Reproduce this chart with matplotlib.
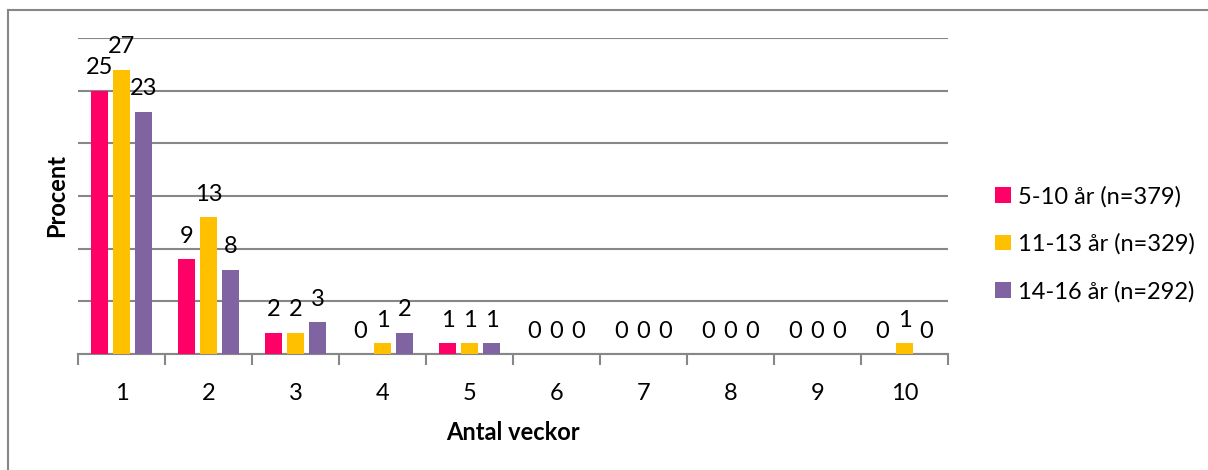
import matplotlib
matplotlib.use("Agg")
import matplotlib.pyplot as plt
from matplotlib.patches import Patch
from matplotlib.lines import Line2D
import numpy as np

plt.rcParams['font.family'] = ['Lato', 'DejaVu Sans']

categories = ['1', '2', '3', '4', '5', '6', '7', '8', '9', '10']
series_names = ['5-10 år (n=379)', '11-13 år (n=329)', '14-16 år (n=292)']
s1 = [25, 9, 2, 0, 1, 0, 0, 0, 0, 0]
s2 = [27, 13, 2, 1, 1, 0, 0, 0, 0, 1]
s3 = [23, 8, 3, 2, 1, 0, 0, 0, 0, 0]
colors = ['#FF0066', '#FFC000', '#8064A2']

fig = plt.figure(figsize=(12.08, 4.70), dpi=100)
ax = fig.add_axes([78/1208, 1-354/470, 870/1208, 316/470])

x = np.arange(1, len(categories) + 1)
step = 0.253
width = 0.2
grid_c = '#878787'
fs = 17
for i, (vals, c) in enumerate(zip([s1, s2, s3], colors)):
    pos = x + (i - 1) * step
    ax.bar(pos, vals, width=width, color=c, zorder=3)
    for p, v in zip(pos, vals):
        ax.annotate(f"{v}", (p, v), xytext=(0, 9), textcoords='offset points',
                    ha='center', va='bottom', fontsize=fs, color='black', zorder=4,
                    annotation_clip=False)

ax.set_xlim(0.5, 10.5)
ax.set_ylim(0, 30)
ax.set_yticks(np.arange(0, 31, 5))
ax.set_yticklabels([])
ax.tick_params(axis='y', length=0)
ax.yaxis.grid(True, color=grid_c, linewidth=1.5, zorder=0)
ax.set_axisbelow(True)

ax.set_xticks(x)
ax.set_xticklabels(categories, fontsize=fs)
ax.set_xticks(np.arange(0.5, 11, 1), minor=True)
ax.tick_params(axis='x', which='major', length=0, pad=21)
ax.tick_params(axis='x', which='minor', length=8, width=1.5, color=grid_c, direction='out')

for s in ['top', 'right', 'left']:
    ax.spines[s].set_visible(False)
ax.spines['bottom'].set_color(grid_c)
ax.spines['bottom'].set_linewidth(1.5)

ax.set_xlabel('Antal veckor', fontsize=fs, fontweight='bold', labelpad=12)
fig.text(57/1208, 1-196/470, 'Procent', rotation=90, ha='center', va='center',
         fontsize=fs, fontweight='bold')

handles = [Patch(facecolor=c, edgecolor='none') for c in colors]
fig.legend(handles, series_names, loc='center left', bbox_to_anchor=(986/1208, 1-244/470),
           frameon=False, fontsize=fs, handlelength=0.65, handleheight=0.65,
           handletextpad=0.3, labelspacing=1.1, borderaxespad=0)

# outer chart border (top and left)
fig.add_artist(Line2D([8/1208, 1.0], [1-10/470, 1-10/470], transform=fig.transFigure,
                      color=grid_c, linewidth=1.5))
fig.add_artist(Line2D([8/1208, 8/1208], [0, 1-10/470], transform=fig.transFigure,
                      color=grid_c, linewidth=1.5))

fig.savefig('out.png', dpi=100)
